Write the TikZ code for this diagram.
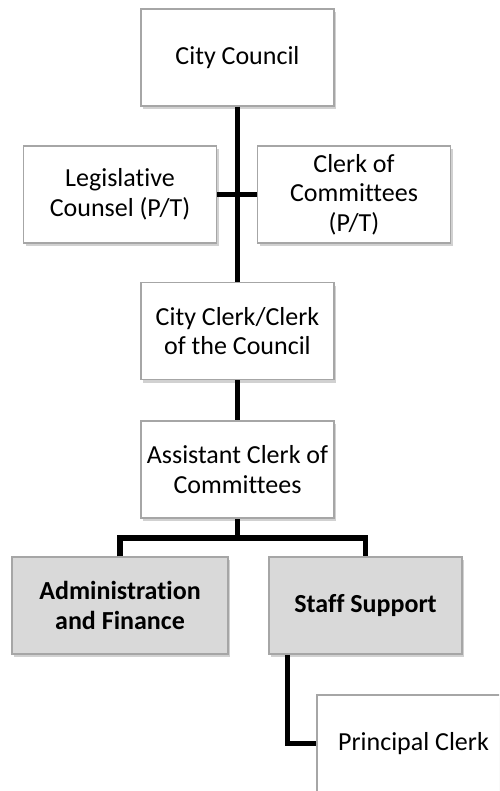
\documentclass[tikz,border=0pt]{standalone}
\usepackage{fontspec}
\setmainfont{Carlito}[Ligatures=NoCommon]
\usetikzlibrary{shadows}
\tikzset{
  box/.style={draw=black!35, line width=1.5pt, fill=white,
    minimum width=193pt, minimum height=97pt, inner sep=2pt, align=center,
    font=\fontsize{26}{29.5}\selectfont,
    drop shadow={shadow xshift=2pt, shadow yshift=-3pt, opacity=0.3, fill=black!60}},
  unitbox/.style={box, fill=black!15, font=\fontsize{26}{29.5}\selectfont\bfseries},
  link/.style={line width=5.5pt}
}
\begin{document}
\begin{tikzpicture}[x=1pt, y=-1pt]
    \clip (0,0) rectangle (499,791);
    \node[box] (council) at (237.5, 57.5) {City Council};
    \node[box] (legis) at (120, 194.5) {Legislative\\Counsel (P/T)};
    \node[box] (clerkcom) at (354, 194.5) {Clerk of\\Committees\\(P/T)};
    \node[box] (cityclerk) at (237.5, 331) {City Clerk/Clerk\\of the Council};
    \node[box] (asst) at (237.5, 469.5) {Assistant Clerk of\\Committees};
    \node[unitbox, minimum width=216pt] (admin) at (120, 605.5) {Administration\\and Finance};
    \node[unitbox] (staff) at (365.5, 605.5) {Staff Support};
    \node[box] (principal) at (413.5, 743.5) {Principal Clerk};
    % connectors
    \draw[link] (council) -- (cityclerk);
    \draw[link] (legis) -- (clerkcom);
    \draw[link] (cityclerk) -- (asst);
    \coordinate (bar) at (237.5, 538);
    \draw[link] (asst) -- (bar);
    \draw[link] (admin.north) |- (bar) -| (staff.north);
    \draw[link] ([xshift=19pt]staff.south west) |- (principal.west);
\end{tikzpicture}
\end{document}
